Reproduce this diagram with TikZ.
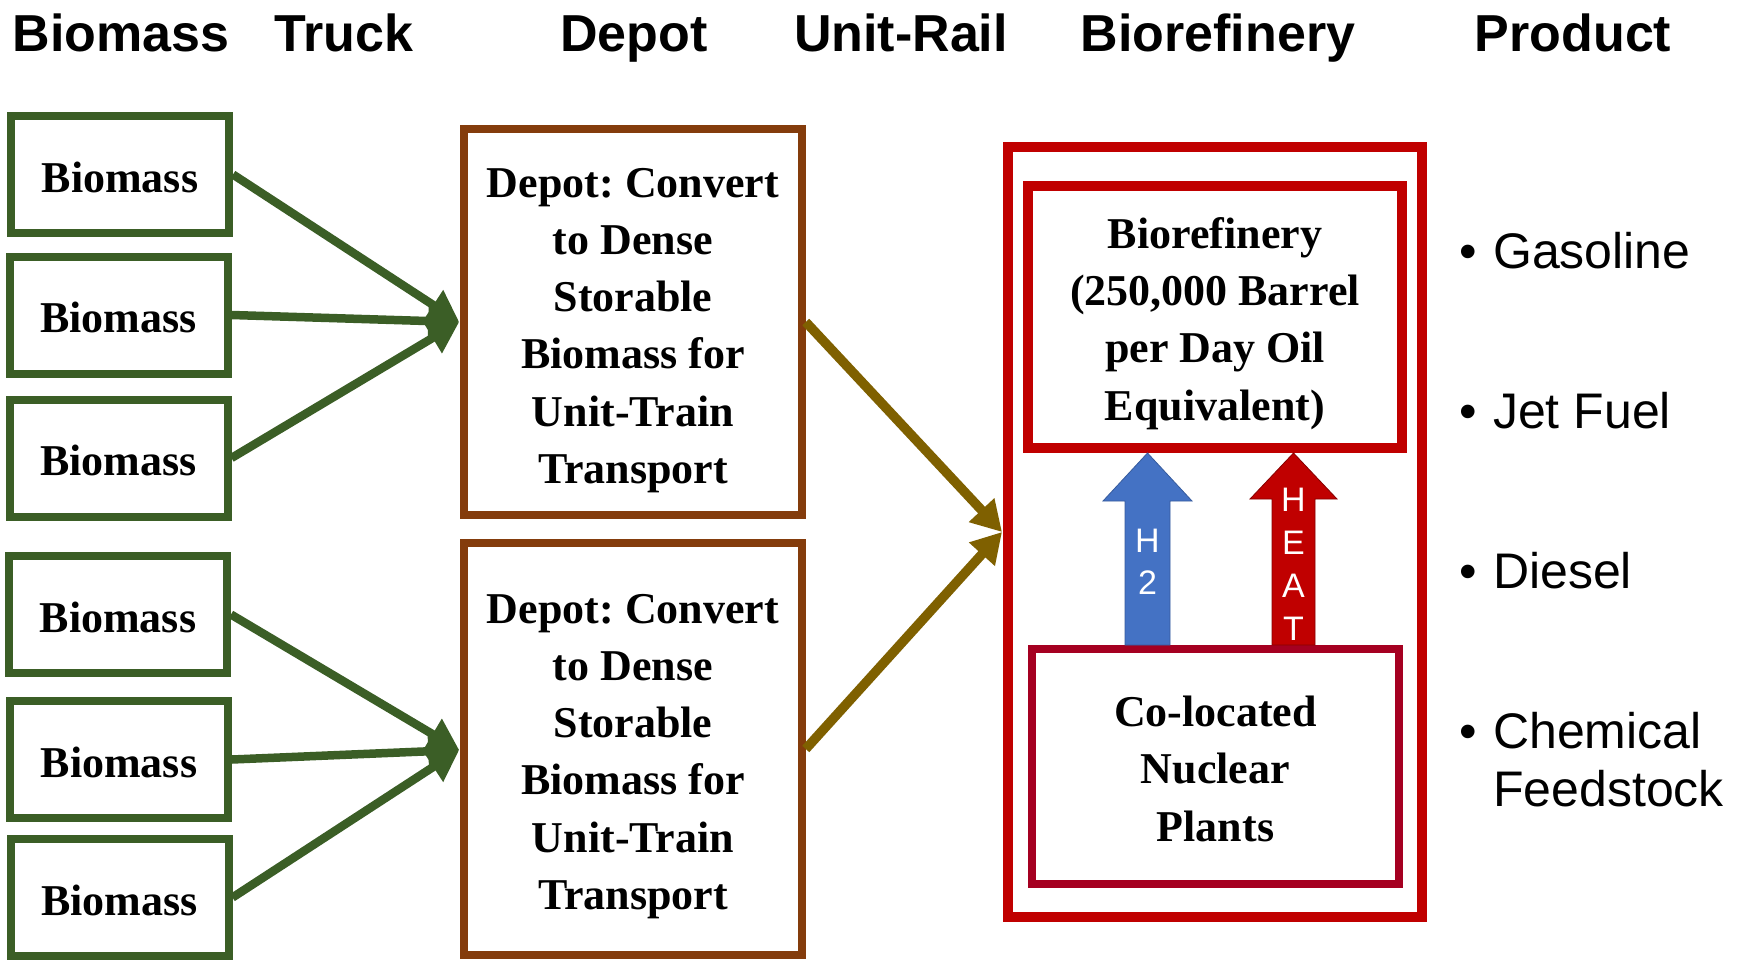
\documentclass[tikz,border=0pt]{standalone}
\usepackage{fontspec}
\setmainfont{Liberation Serif}
\newfontfamily\arial{Liberation Sans}
\usetikzlibrary{arrows.meta}
\definecolor{bgreen}{RGB}{59,94,38}
\definecolor{dbrown}{RGB}{132,60,12}
\definecolor{olivearr}{RGB}{127,96,0}
\definecolor{rred}{RGB}{192,0,0}
\definecolor{nucred}{RGB}{165,0,33}
\definecolor{h2blue}{RGB}{68,114,196}
\frenchspacing
\begin{document}
\begin{tikzpicture}[x=1pt,y=-1pt,
  hdr/.style={font=\arial\bfseries\fontsize{52}{60}\selectfont, anchor=base, inner sep=0pt},
  biobox/.style={draw=bgreen, line width=8pt, minimum width=218pt, minimum height=117pt, inner sep=0pt, font=\bfseries\fontsize{44}{52}\selectfont},
  depotbox/.style={draw=dbrown, line width=7.5pt, minimum width=338pt, inner sep=0pt, align=center, font=\bfseries\fontsize{44}{57.3}\selectfont},
  refbox/.style={draw=rred, line width=10pt, minimum width=374pt, minimum height=262pt, inner sep=0pt, align=center, font=\bfseries\fontsize{44}{57.2}\selectfont},
  nucbox/.style={draw=nucred, line width=8pt, minimum width=367pt, minimum height=235pt, inner sep=0pt, align=center, font=\bfseries\fontsize{44}{57.5}\selectfont},
  prod/.style={font=\arial\fontsize{50}{58}\selectfont, anchor=base west, inner sep=0pt},
  garrow/.style={draw=bgreen, line width=8.5pt, -{Triangle[length=31pt,width=34pt]}},
  oarrow/.style={draw=olivearr, line width=9.5pt, -{Triangle[length=30pt,width=33pt]}},
  arrlabel/.style={text=white, align=center, inner sep=0pt, font=\arial\fontsize{34}{42}\selectfont}
]
\useasboundingbox (0,0) rectangle (1748,960);

% headers
\node[hdr] (hbio) at (121,52) {Biomass};
\node[hdr] (htruck) at (344,52) {Truck};
\node[hdr] (hdepot) at (634,52) {Depot};
\node[hdr] (hrail) at (901,52) {Unit-Rail};
\node[hdr] (href) at (1218,52) {Biorefinery};
\node[hdr] (hprod) at (1573,52) {Product};

% biomass boxes
\node[biobox] (b1) at (120,174.5) {\rule{0pt}{36pt}Biomass};
\node[biobox] (b2) at (118.5,315) {\rule{0pt}{36pt}Biomass};
\node[biobox] (b3) at (118.5,458) {\rule{0pt}{36pt}Biomass};
\node[biobox] (b4) at (118,614.5) {\rule{0pt}{36pt}Biomass};
\node[biobox] (b5) at (119,759.5) {\rule{0pt}{36pt}Biomass};
\node[biobox] (b6) at (119.5,897.5) {\rule{0pt}{36pt}Biomass};

% depots
\node[depotbox, minimum height=386pt] (d1) at (633,322) {\rule{0pt}{46pt}Depot: Convert\\to Dense\\Storable\\Biomass for\\Unit-Train\\Transport};
\node[depotbox, minimum height=412pt] (d2) at (633,749) {\rule{0pt}{44pt}Depot: Convert\\to Dense\\Storable\\Biomass for\\Unit-Train\\Transport};

% biorefinery complex
\node[draw=rred, line width=10pt, minimum width=414pt, minimum height=770pt, inner sep=0pt] (outer) at (1215,532) {};
\node[refbox] (bref) at (1215,317) {\rule{0pt}{44pt}Biorefinery\\(250,000 Barrel\\per Day Oil\\Equivalent)};
\node[nucbox] (nuc) at (1215.5,766.5) {\rule{0pt}{35pt}Co-located\\Nuclear\\Plants};

% truck arrows
\coordinate (t1) at ([xshift=-1pt]d1.west);
\coordinate (t2) at ([xshift=-1pt,yshift=-1pt]d2.west);
\draw[garrow] (b1.east) -- (t1);
\draw[garrow] (b2.east) -- (t1);
\draw[garrow] (b3.east) -- (t1);
\draw[garrow] (b4.east) -- (t2);
\draw[garrow] (b5.east) -- (t2);
\draw[garrow] (b6.east) -- (t2);

% rail arrows
\coordinate (rt) at ([xshift=-1pt]outer.west);
\draw[oarrow] (d1.east) -- (rt);
\draw[oarrow] (d2.east) -- (rt);

% H2 and HEAT arrows
\coordinate (h2x) at (1147.5,0);
\coordinate (h2bot) at (h2x |- nuc.north);
\coordinate (h2tip) at (h2x |- bref.south);
\filldraw[fill=h2blue, draw=h2blue!80!black, line width=0.8pt]
  ([xshift=-22.5pt]h2bot) -- ([xshift=-22.5pt,yshift=-48pt]h2tip) -- ([xshift=-44.5pt,yshift=-48pt]h2tip) -- (h2tip)
  -- ([xshift=44.5pt,yshift=-48pt]h2tip) -- ([xshift=22.5pt,yshift=-48pt]h2tip) -- ([xshift=22.5pt]h2bot) -- cycle;
\node[arrlabel] (h2lab) at (1147.5,562) {H\\2};

\coordinate (htx) at (1293.5,0);
\coordinate (htbot) at (htx |- nuc.north);
\coordinate (httip) at (htx |- bref.south);
\filldraw[fill=rred, draw=rred!70!black, line width=0.8pt]
  ([xshift=-21.5pt]htbot) -- ([xshift=-21.5pt,yshift=-46pt]httip) -- ([xshift=-43.5pt,yshift=-46pt]httip) -- (httip)
  -- ([xshift=43.5pt,yshift=-46pt]httip) -- ([xshift=21.5pt,yshift=-46pt]httip) -- ([xshift=21.5pt]htbot) -- cycle;
\node[arrlabel, font=\arial\fontsize{34}{43}\selectfont] (heatlab) at (1293.5,564) {H\\E\\A\\T};

% products
\node[prod] (p1) at (1459,269) {\makebox[34pt][l]{•}Gasoline};
\node[prod] (p2) at (1459,428) {\makebox[34pt][l]{•}Jet Fuel};
\node[prod] (p3) at (1459,588) {\makebox[34pt][l]{•}Diesel};
\node[prod] (p4) at (1459,748) {\makebox[34pt][l]{•}Chemical};
\node[prod] (p5) at (1493,806) {Feedstock};
\end{tikzpicture}
\end{document}
